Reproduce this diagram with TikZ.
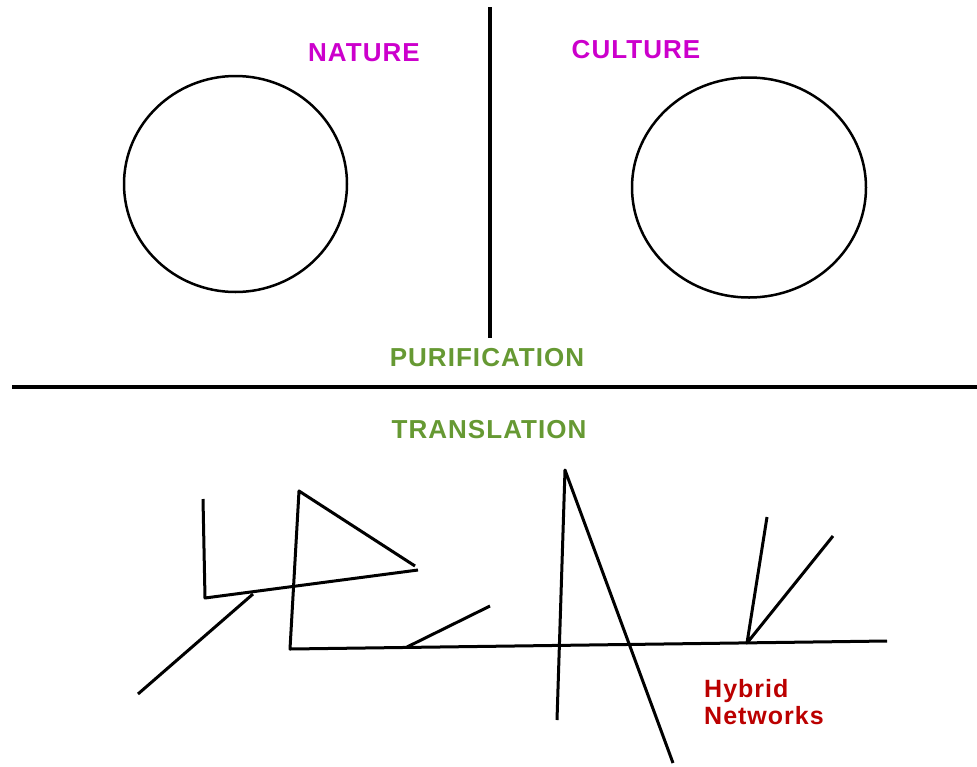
\documentclass[tikz,border=0pt]{standalone}
\usepackage{fontspec}
\setmainfont{Liberation Sans}
\definecolor{magentaL}{HTML}{CC00CC}
\definecolor{greenL}{HTML}{669933}
\definecolor{redL}{HTML}{BB0000}
\tikzset{
  lbl/.style={font=\fontsize{26}{28}\selectfont\bfseries\addfontfeatures{LetterSpace=4}, inner sep=0pt},
  divider/.style={line width=4pt, line cap=butt},
  sketch/.style={line width=3pt, line join=round, line cap=butt},
  ring/.style={line width=2.5pt}
}
\begin{document}
\begin{tikzpicture}[x=1pt,y=-1pt]
\useasboundingbox (0,0) rectangle (977,766);
% dividers
\draw[divider] (490,7) -- (490,338);
\draw[divider] (12,387) -- (977,387);
% circles
\draw[ring] (235.5,184) ellipse [x radius=111.5, y radius=108];
\draw[ring] (749,187.5) ellipse [x radius=117, y radius=110];
% labels
\node[lbl, text=magentaL] (nature) at (364,53) {NATURE};
\node[lbl, text=magentaL] (culture) at (636,50) {CULTURE};
\node[lbl, text=greenL] (purif) at (487,358) {PURIFICATION};
\node[lbl, text=greenL] (transl) at (489,430) {TRANSLATION};
\node[lbl, text=redL, align=left, anchor=north west, font=\fontsize{25}{27}\selectfont\bfseries\addfontfeatures{LetterSpace=4}] (hybrid) at (704,679) {Hybrid\\Networks};
% sketch lines
\coordinate (a1) at (203,499);
\coordinate (a2) at (205,598);
\coordinate (a3) at (418,570);
\coordinate (t1) at (299,491);
\coordinate (t2) at (415,566);
\coordinate (b1) at (290,649);
\coordinate (b2) at (887,641);
\coordinate (d1) at (138,694);
\coordinate (d2) at (253,594);
\coordinate (s1) at (407,647);
\coordinate (s2) at (490,606);
\coordinate (p1) at (565,470);
\coordinate (p2) at (557,720);
\coordinate (p3) at (673,763);
\coordinate (h0) at (747,643);
\coordinate (h1) at (767,517);
\coordinate (h2) at (833,536);
\draw[sketch] (a1) -- (a2) -- (a3);
\draw[sketch] (t2) -- (t1) -- (b1) -- (b2);
\draw[sketch] (d1) -- (d2);
\draw[sketch] (s1) -- (s2);
\draw[sketch] (p2) -- (p1) -- (p3);
\draw[sketch] (h1) -- (h0) -- (h2);
\end{tikzpicture}
\end{document}
